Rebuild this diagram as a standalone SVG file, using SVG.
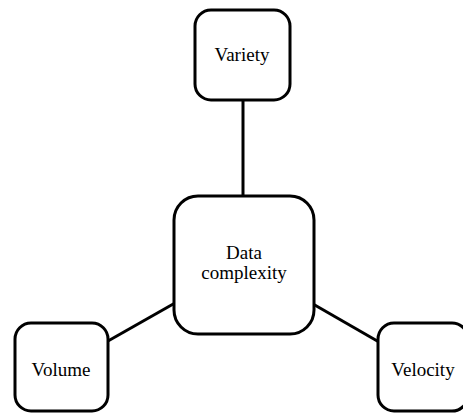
<svg xmlns="http://www.w3.org/2000/svg" width="463" height="416" viewBox="0 0 463 416">
  <style>
    .box { fill: #ffffff; stroke: #000000; stroke-width: 3; }
    .edge { stroke: #000000; stroke-width: 3; fill: none; }
    .label { font-family: "Liberation Serif", "Times New Roman", serif; font-size: 19px; fill: #000000; text-anchor: middle; }
  </style>
  <rect width="463" height="416" fill="#ffffff"/>
  <g id="connectors">
    <line class="edge" x1="243" y1="100" x2="243" y2="196"/>
    <line class="edge" x1="108" y1="341" x2="175" y2="303"/>
    <line class="edge" x1="313" y1="304" x2="379" y2="342"/>
  </g>
  <g id="variety">
    <rect class="box" x="195" y="10" width="95" height="90" rx="16"/>
    <text class="label" x="242" y="61">Variety</text>
  </g>
  <g id="data-complexity">
    <rect class="box" x="174" y="196" width="140" height="138" rx="24"/>
    <text class="label" x="244" y="259">Data</text>
    <text class="label" x="244" y="279">complexity</text>
  </g>
  <g id="volume">
    <rect class="box" x="15" y="323" width="93" height="88" rx="16"/>
    <text class="label" x="61" y="376">Volume</text>
  </g>
  <g id="velocity">
    <rect class="box" x="378" y="323" width="90" height="88" rx="16"/>
    <text class="label" x="423" y="376">Velocity</text>
  </g>
</svg>
